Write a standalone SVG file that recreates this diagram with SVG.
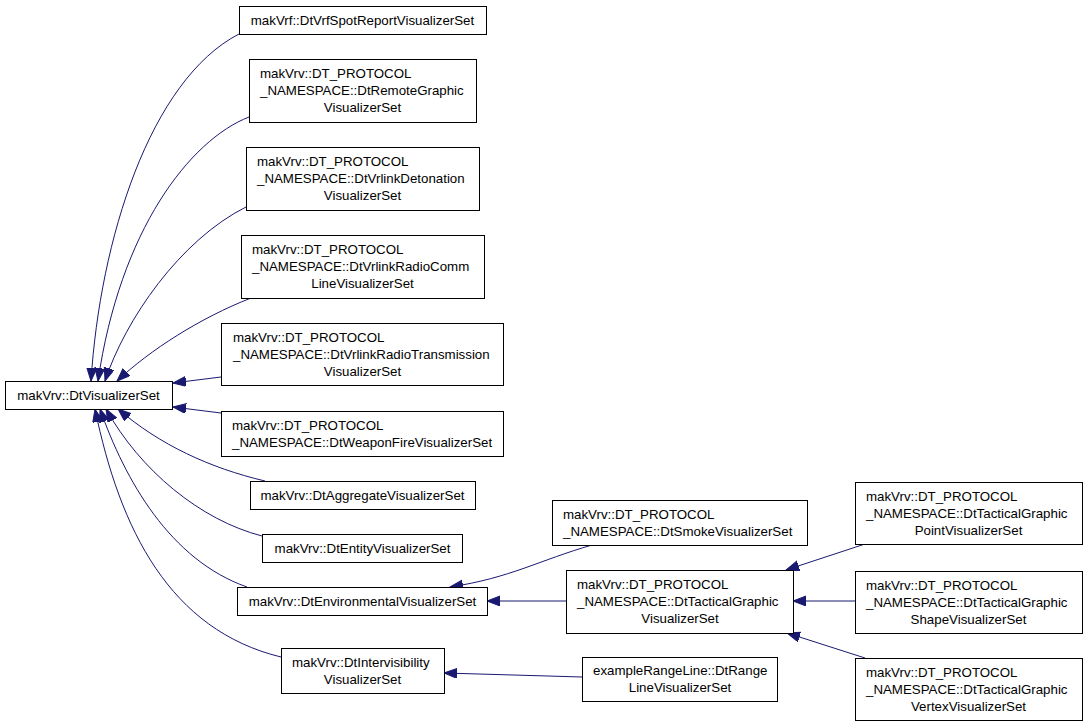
<svg xmlns="http://www.w3.org/2000/svg" width="1088" height="727" viewBox="0 0 1088 727">
<style>
.n rect{fill:#fff;stroke:#000;stroke-width:1}
.n text{font-family:"Liberation Sans",Arial,sans-serif;font-size:13.3px;fill:#000}
.c{text-anchor:middle}
#edges path{fill:none;stroke:#191970;stroke-width:1;marker-end:url(#ah)}
</style>
<defs>
<marker id="ah" markerUnits="userSpaceOnUse" markerWidth="14" markerHeight="11" refX="13" refY="5" orient="auto">
<path d="M0,0 L13,5 L0,10 z" fill="#191970" stroke="#191970" stroke-width="1"/>
</marker>
</defs>
<rect width="1088" height="727" fill="#fff"/>
<g id="edges">
<path d="M239,34 C150,80 100,240 91,381"/>
<path d="M249,117 C190,140 120,230 98,381"/>
<path d="M246,207 C180,240 125,320 105,381"/>
<path d="M251,298 C200,318 150,350 117,381"/>
<path d="M221,377 L173,383"/>
<path d="M221,413 L173,407"/>
<path d="M265,481 C210,468 160,445 118,409"/>
<path d="M262,536 C200,520 140,470 106,409"/>
<path d="M247,587 C170,560 125,480 100,409"/>
<path d="M281,657 C170,630 120,530 95,409"/>
<path d="M592,545 C540,560 510,578 450,587"/>
<path d="M566,601 L487,601"/>
<path d="M582,677 L444,673"/>
<path d="M865,544 L786,570"/>
<path d="M855,601 L793,601"/>
<path d="M865,658 L787,633"/>
</g>
<g id="n_spot" class="n"><rect x="239.5" y="6.5" width="247" height="28"/><text class="c" x="362.5" y="25">makVrf::DtVrfSpotReportVisualizerSet</text></g>
<g id="n_remote" class="n"><rect x="249.5" y="59.5" width="227" height="63"/><text x="260" y="78">makVrv::DT_PROTOCOL</text><text x="260" y="95">_NAMESPACE::DtRemoteGraphic</text><text class="c" x="362.5" y="112">VisualizerSet</text></g>
<g id="n_detonation" class="n"><rect x="246.5" y="147.5" width="233" height="63"/><text x="257" y="166">makVrv::DT_PROTOCOL</text><text x="257" y="183">_NAMESPACE::DtVrlinkDetonation</text><text class="c" x="362.5" y="200">VisualizerSet</text></g>
<g id="n_radiocomm" class="n"><rect x="241.5" y="235.5" width="243" height="63"/><text x="252" y="254">makVrv::DT_PROTOCOL</text><text x="252" y="271">_NAMESPACE::DtVrlinkRadioComm</text><text class="c" x="362.5" y="288">LineVisualizerSet</text></g>
<g id="n_radiotx" class="n"><rect x="221.5" y="323.5" width="282" height="62"/><text x="233" y="342">makVrv::DT_PROTOCOL</text><text x="233" y="359">_NAMESPACE::DtVrlinkRadioTransmission</text><text class="c" x="362.5" y="376">VisualizerSet</text></g>
<g id="n_weapon" class="n"><rect x="221.5" y="411.5" width="282" height="45"/><text x="232" y="430">makVrv::DT_PROTOCOL</text><text x="232" y="447">_NAMESPACE::DtWeaponFireVisualizerSet</text></g>
<g id="n_base" class="n"><rect x="5.5" y="381.5" width="167" height="28"/><text class="c" x="88.5" y="400">makVrv::DtVisualizerSet</text></g>
<g id="n_aggregate" class="n"><rect x="250.5" y="481.5" width="225" height="28"/><text class="c" x="362.5" y="500">makVrv::DtAggregateVisualizerSet</text></g>
<g id="n_entity" class="n"><rect x="262.5" y="534.5" width="200" height="28"/><text class="c" x="362.5" y="553">makVrv::DtEntityVisualizerSet</text></g>
<g id="n_environmental" class="n"><rect x="237.5" y="587.5" width="250" height="28"/><text class="c" x="362.5" y="606">makVrv::DtEnvironmentalVisualizerSet</text></g>
<g id="n_intervis" class="n"><rect x="281.5" y="648.5" width="163" height="45"/><text x="292" y="667">makVrv::DtIntervisibility</text><text class="c" x="362.5" y="684">VisualizerSet</text></g>
<g id="n_smoke" class="n"><rect x="552.5" y="500.5" width="255" height="45"/><text x="563" y="519">makVrv::DT_PROTOCOL</text><text x="563" y="536">_NAMESPACE::DtSmokeVisualizerSet</text></g>
<g id="n_tactical" class="n"><rect x="566.5" y="570.5" width="227" height="63"/><text x="577" y="589">makVrv::DT_PROTOCOL</text><text x="577" y="606">_NAMESPACE::DtTacticalGraphic</text><text class="c" x="680" y="623">VisualizerSet</text></g>
<g id="n_range" class="n"><rect x="582.5" y="657.5" width="195" height="44"/><text x="593" y="675">exampleRangeLine::DtRange</text><text class="c" x="680" y="692">LineVisualizerSet</text></g>
<g id="n_point" class="n"><rect x="855.5" y="482.5" width="227" height="62"/><text x="866" y="501">makVrv::DT_PROTOCOL</text><text x="866" y="518">_NAMESPACE::DtTacticalGraphic</text><text class="c" x="968.5" y="535">PointVisualizerSet</text></g>
<g id="n_shape" class="n"><rect x="855.5" y="571.5" width="227" height="62"/><text x="866" y="590">makVrv::DT_PROTOCOL</text><text x="866" y="607">_NAMESPACE::DtTacticalGraphic</text><text class="c" x="968.5" y="624">ShapeVisualizerSet</text></g>
<g id="n_vertex" class="n"><rect x="855.5" y="658.5" width="227" height="62"/><text x="866" y="677">makVrv::DT_PROTOCOL</text><text x="866" y="694">_NAMESPACE::DtTacticalGraphic</text><text class="c" x="968.5" y="711">VertexVisualizerSet</text></g>
</svg>
